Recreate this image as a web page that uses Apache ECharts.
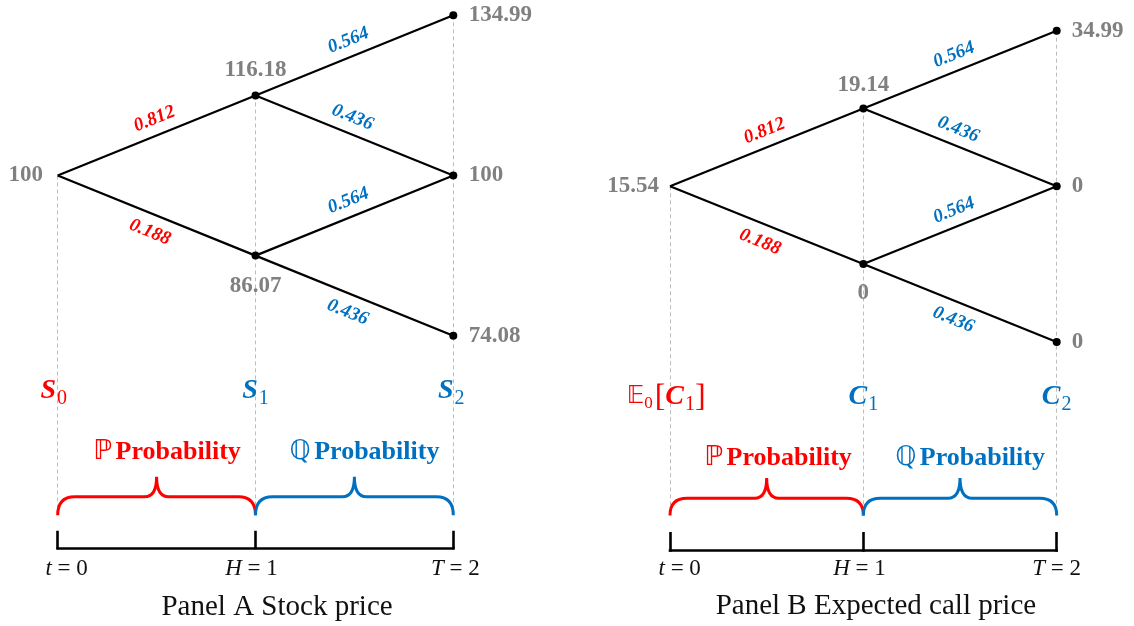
<!DOCTYPE html>
<html><head><meta charset="utf-8">
<script src="https://cdn.jsdelivr.net/npm/echarts@6/dist/echarts.min.js"></script>
<style>html,body{margin:0;padding:0;background:#fff}#c{width:1134px;height:626px}</style>
</head><body><div id="c"></div>
<script>
// ---------- data ----------
const timeSteps = [0, 1, 2];
const timeSymbols = ['t', 'H', 'T'];
const stockTree = [[100], [116.18, 86.07], [134.99, 100, 74.08]];
const callTree = [[15.54], [19.14, 0], [34.99, 0, 0]];
const physicalProb = [0.812, 0.188];
const riskNeutralProb = [0.564, 0.436];
const measureNames = ['Probability', 'Probability'];
const measureSymbols = ['\u2119', '\u211A'];
const panelTitles = ['Panel A Stock price', 'Panel B Expected call price'];

// ---------- style / layout ----------
const RED = '#ff0000', BLUE = '#0070c0', GRAY = '#808080';
const SERIF = "'Liberation Serif','Times New Roman',serif";
const panels = [
  { tree: stockTree, varName: 'S', expected: false,
    grid: { left: 57.7, top: 15.3, width: 395.6, height: 600.8 },
    rows: { sub: -2.69, prob: -3.45, tip: -3.76, flat: -4.01, bottom: -4.24, tickTop: -4.45, axis: -4.65, time: -4.91, title: -5.39 },
    dist: { root: 14.7, up: 10, down: 15, term: 11.5 },
    subOff: [-0.02, 0, -0.01], timeOff: [0.045, -0.02, 0.01], probOff: [0.053, 0.051], titleX: 1.109 },
  { tree: callTree, varName: 'C', expected: true,
    grid: { left: 670, top: 30.7, width: 386.7, height: 583.5 },
    rows: { sub: -2.71, prob: -3.49, tip: -3.75, flat: -4.01, bottom: -4.23, tickTop: -4.46, axis: -4.68, time: -4.92, title: -5.40 },
    dist: { root: 11, up: 7.7, down: 13, term: 11 },
    subOff: [-0.02, 0, 0], timeOff: [0.05, -0.02, 0.0], probOff: [0.059, 0.052], titleX: 1.065 }
];

const richBase = {
  v: { fontFamily: SERIF, fontWeight: 'bold', fontStyle: 'italic', fontSize: 28 },
  s: { fontFamily: SERIF, fontSize: 20, padding: [15, 0, 0, 1] },
  bb: { fontFamily: "'DejaVu Sans'", fontSize: 24 },
  bs: { fontFamily: SERIF, fontSize: 17, padding: [12, 2, 0, 0] },
  br: { fontFamily: SERIF, fontSize: 32 },
  pb: { fontFamily: "'DejaVu Sans'", fontSize: 27 },
  pt: { fontFamily: SERIF, fontWeight: 'bold', fontSize: 26 },
  ti: { fontFamily: SERIF, fontStyle: 'italic', fontSize: 23 },
  tn: { fontFamily: SERIF, fontSize: 23 },
  tt: { fontFamily: SERIF, fontSize: 29 }
};
function withColor(c) {
  const r = {};
  Object.keys(richBase).forEach(k => { r[k] = Object.assign({}, richBase[k], { fill: c }); });
  return r;
}

const series = [];
panels.forEach((P, k) => {
  const tree = P.tree;
  const lev = (t, j) => t - 2 * j;
  const last = tree.length - 1;
  const axes = { xAxisIndex: k, yAxisIndex: k };

  // dashed guides
  series.push(Object.assign({
    type: 'lines', coordinateSystem: 'cartesian2d', z: 1, silent: true,
    lineStyle: { color: '#bdbdbd', width: 1, type: [4, 3], opacity: 1 },
    data: timeSteps.map((x, t) => ({ coords: [[x, lev(t, 0)], [x, P.rows.bottom]] }))
  }, axes));

  // edges + edge labels
  const edges = [], edgeLabels = [];
  for (let t = 0; t < last; t++) {
    const probs = t === 0 ? physicalProb : riskNeutralProb;
    for (let j = 0; j <= t; j++) {
      [[j, 0], [j + 1, 1]].forEach(([jj, b]) => {
        edges.push({ coords: [[timeSteps[t], lev(t, j)], [timeSteps[t + 1], lev(t + 1, jj)]] });
        const side = b === 0 ? 1 : ((t === 1 && j === 0) ? 1 : -1);
        const frac = (b === 1 && side > 0) ? 0.46 : (t === 0 && b === 0 ? 0.52 : 0.5);
        edgeLabels.push([timeSteps[t], lev(t, j), timeSteps[t + 1], lev(t + 1, jj), probs[b], side, t === 0 ? 0 : 1, frac]);
      });
    }
  }
  series.push(Object.assign({
    type: 'lines', coordinateSystem: 'cartesian2d', z: 2, silent: true,
    lineStyle: { color: '#000', width: 2.2, opacity: 1 }, data: edges
  }, axes));
  series.push(Object.assign({
    type: 'custom', coordinateSystem: 'cartesian2d', z: 4, silent: true,
    data: edgeLabels,
    renderItem: (params, api) => {
      const a = api.coord([api.value(0), api.value(1)]);
      const b = api.coord([api.value(2), api.value(3)]);
      const f = api.value(7);
      const mx = a[0] + (b[0] - a[0]) * f, my = a[1] + (b[1] - a[1]) * f;
      const ang = Math.atan2(b[1] - a[1], b[0] - a[0]);
      const side = api.value(5);
      const d = side > 0 ? 16 : 18;
      return {
        type: 'text', x: mx + Math.sin(ang) * side * d, y: my - Math.cos(ang) * side * d, rotation: -ang,
        style: { text: api.value(4).toFixed(3), align: 'center', verticalAlign: 'middle',
          font: "italic bold 19px " + SERIF, fill: api.value(6) === 0 ? RED : BLUE }
      };
    }
  }, axes));

  // nodes
  const nodes = [];
  tree.forEach((col, t) => col.forEach((v, j) => {
    let pos, dist;
    if (t === 0) { pos = 'left'; dist = P.dist.root; }
    else if (t === last) { pos = 'right'; dist = P.dist.term; }
    else if (j === 0) { pos = 'top'; dist = P.dist.up; }
    else { pos = 'bottom'; dist = P.dist.down; }
    nodes.push({ value: [timeSteps[t], lev(t, j)], symbolSize: t === 0 ? 0 : 8,
      label: { position: pos, distance: dist, formatter: String(v) } });
  }));
  series.push(Object.assign({
    type: 'scatter', z: 3, silent: true, symbol: 'circle',
    itemStyle: { color: '#000', opacity: 1 },
    label: { show: true, color: GRAY, fontFamily: SERIF, fontWeight: 'bold', fontSize: 23 },
    data: nodes
  }, axes));

  // braces
  series.push(Object.assign({
    type: 'custom', coordinateSystem: 'cartesian2d', z: 2, silent: true,
    data: [[timeSteps[0], timeSteps[1], 0], [timeSteps[1], timeSteps[2], 1]],
    renderItem: (params, api) => {
      const x0 = api.value(0), x1 = api.value(1);
      const pb0 = api.coord([x0, P.rows.bottom]), pb1 = api.coord([x1, P.rows.bottom]);
      const pf = api.coord([x0, P.rows.flat]), pt = api.coord([(x0 + x1) / 2, P.rows.tip]);
      const yb = pb0[1], yf = pf[1], yt = pt[1], xa = pb0[0], xb = pb1[0], xm = pt[0];
      const r = 17, r2 = 12;
      const d = `M${xa},${yb} Q${xa},${yf} ${xa + r},${yf} L${xm - r2},${yf} Q${xm},${yf} ${xm},${yt} ` +
        `Q${xm},${yf} ${xm + r2},${yf} L${xb - r},${yf} Q${xb},${yf} ${xb},${yb}`;
      return { type: 'path', shape: { pathData: d },
        style: { fill: 'none', stroke: api.value(2) === 0 ? RED : BLUE, lineWidth: 3 } };
    }
  }, axes));

  // timeline
  const tl = [{ coords: [[timeSteps[0], P.rows.axis], [timeSteps[last], P.rows.axis]] }];
  timeSteps.forEach(x => tl.push({ coords: [[x, P.rows.tickTop], [x, P.rows.axis]] }));
  series.push(Object.assign({
    type: 'lines', coordinateSystem: 'cartesian2d', z: 2, silent: true,
    lineStyle: { color: '#000', width: 2.6, opacity: 1, cap: 'square' }, data: tl
  }, axes));

  // text annotations
  const ann = [];
  timeSteps.forEach((x, t) => {
    const c = t === 0 ? RED : BLUE;
    let txt;
    if (t === 0 && P.expected) txt = `{bb|\u{1D53C}}{bs|0}{br|[}{v|${P.varName}}{s|1}{br|]}`;
    else txt = `{v|${P.varName}}{s|${t}}`;
    ann.push({ x: x + P.subOff[t], y: P.rows.sub, text: txt, color: c });
    ann.push({ x: x + P.timeOff[t], y: P.rows.time, text: `{ti|${timeSymbols[t]}}{tn| = ${x}}`, color: '#111' });
  });
  [0, 1].forEach(i => {
    ann.push({ x: (timeSteps[i] + timeSteps[i + 1]) / 2 + P.probOff[i], y: P.rows.prob,
      text: `{pb|${measureSymbols[i]}} {pt|${measureNames[i]}}`, color: i === 0 ? RED : BLUE });
  });
  ann.push({ x: P.titleX, y: P.rows.title, text: `{tt|${panelTitles[k]}}`, color: '#111' });
  series.push(Object.assign({
    type: 'custom', coordinateSystem: 'cartesian2d', z: 5, silent: true,
    data: ann.map(a => [a.x, a.y]),
    renderItem: (params, api) => {
      const a = ann[params.dataIndex];
      const p = api.coord([api.value(0), api.value(1)]);
      return { type: 'text', x: p[0], y: p[1],
        style: { text: a.text, rich: withColor(a.color), fill: a.color, align: 'center', verticalAlign: 'middle' } };
    }
  }, axes));
});

const chart = echarts.init(document.getElementById('c'), null, { renderer: 'canvas' });
chart.setOption({
  animation: false,
  backgroundColor: '#fff',
  grid: panels.map(P => Object.assign({ containLabel: false }, P.grid)),
  xAxis: panels.map((P, k) => ({ type: 'value', gridIndex: k, min: 0, max: 2, show: false })),
  yAxis: panels.map((P, k) => ({ type: 'value', gridIndex: k, min: -5.5, max: 2, show: false })),
  series
});
</script></body></html>
